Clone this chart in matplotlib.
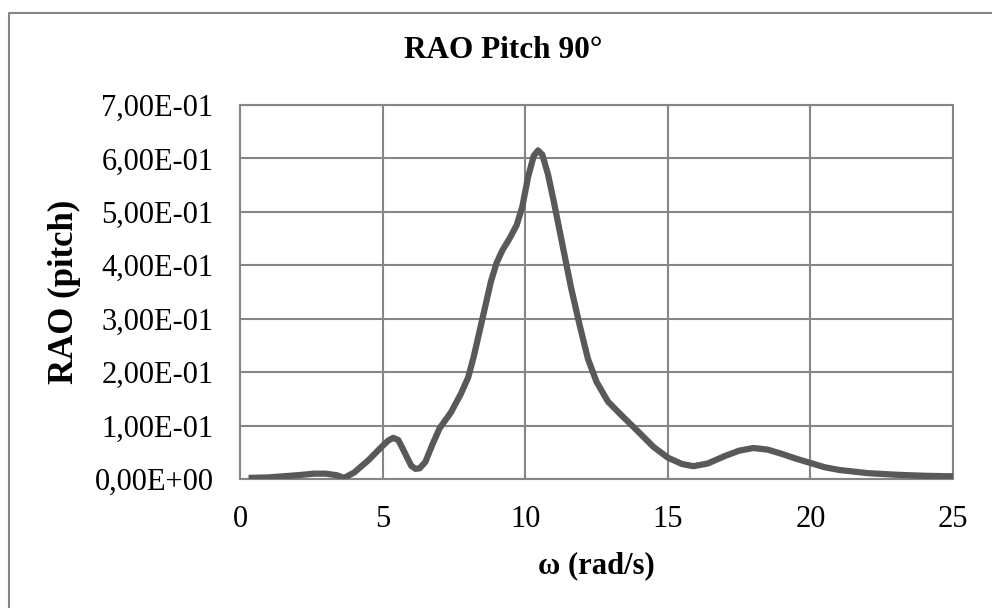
import matplotlib.pyplot as plt
from matplotlib.lines import Line2D
from matplotlib.ticker import FuncFormatter

# values
omega = [0.3, 1.0, 2.0, 2.6, 3.0, 3.4, 3.65, 4.0, 4.5, 5.0, 5.2, 5.37, 5.55,
         5.75, 6.0, 6.15, 6.3, 6.5, 6.75, 7.0, 7.4, 7.75, 8.0, 8.2, 8.5,
         8.8, 9.0, 9.2, 9.45, 9.7, 9.9, 10.1, 10.3, 10.45, 10.6, 10.8, 11.0,
         11.3, 11.6, 11.9, 12.2, 12.5, 12.9, 13.4, 13.9, 14.5, 15.0, 15.5,
         15.9, 16.4, 17.0, 17.5, 18.0, 18.5, 19.0, 19.5, 20.0, 20.5, 21.0,
         22.0, 23.0, 24.0, 25.0]
rao = [0.002, 0.003, 0.007, 0.010, 0.010, 0.007, 0.002, 0.012, 0.035, 0.062,
       0.072, 0.077, 0.073, 0.052, 0.025, 0.019, 0.020, 0.032, 0.065, 0.095,
       0.125, 0.160, 0.190, 0.230, 0.300, 0.370, 0.405, 0.428, 0.450, 0.475,
       0.510, 0.565, 0.605, 0.615, 0.607, 0.570, 0.520, 0.440, 0.360, 0.290,
       0.225, 0.182, 0.145, 0.118, 0.092, 0.060, 0.040, 0.028, 0.024, 0.029,
       0.043, 0.053, 0.058, 0.055, 0.047, 0.038, 0.030, 0.022, 0.017, 0.011,
       0.008, 0.006, 0.005]

plt.rcParams['font.family'] = ['Liberation Serif', 'DejaVu Serif']

fig = plt.figure(figsize=(9.92, 6.08), dpi=100)
ax = fig.add_axes([240 / 992, 1 - 479 / 608, 713 / 992, 374 / 608])

ax.plot(omega, rao, color='#595959', lw=4.5, solid_capstyle='butt',
        solid_joinstyle='round', zorder=3)

ax.set_xlim(0, 25)
ax.set_ylim(0, 0.7)
ax.set_xticks(range(0, 26, 5))
ax.set_yticks([i / 10 for i in range(8)])
ax.yaxis.set_major_formatter(
    FuncFormatter(lambda v, p: '{:.2E}'.format(v).replace('.', ',')))
ax.grid(True, color='#868686', lw=1.5)
ax.set_axisbelow(True)
for s in ax.spines.values():
    s.set_color('#868686')
    s.set_linewidth(1.5)
ax.tick_params(length=0, labelsize=22, pad=19)

fig.text(503 / 992, 1 - 50 / 608, 'RAO Pitch 90°', fontsize=22.5,
         fontweight='bold', ha='center', va='center')
ax.set_xlabel('ω (rad/s)', fontsize=22, fontweight='bold', labelpad=12)
ax.set_ylabel('RAO (pitch)', fontsize=25, fontweight='bold', labelpad=10)

# chart-area border: only left and top edges fall inside the image
x0, y0 = 8.5 / 992, 1 - 12.5 / 608
fig.lines.append(Line2D([x0, x0, 1.0], [0.0, y0, y0], transform=fig.transFigure,
                        color='#868686', lw=1.5))

fig.savefig('out.png', dpi=100)
